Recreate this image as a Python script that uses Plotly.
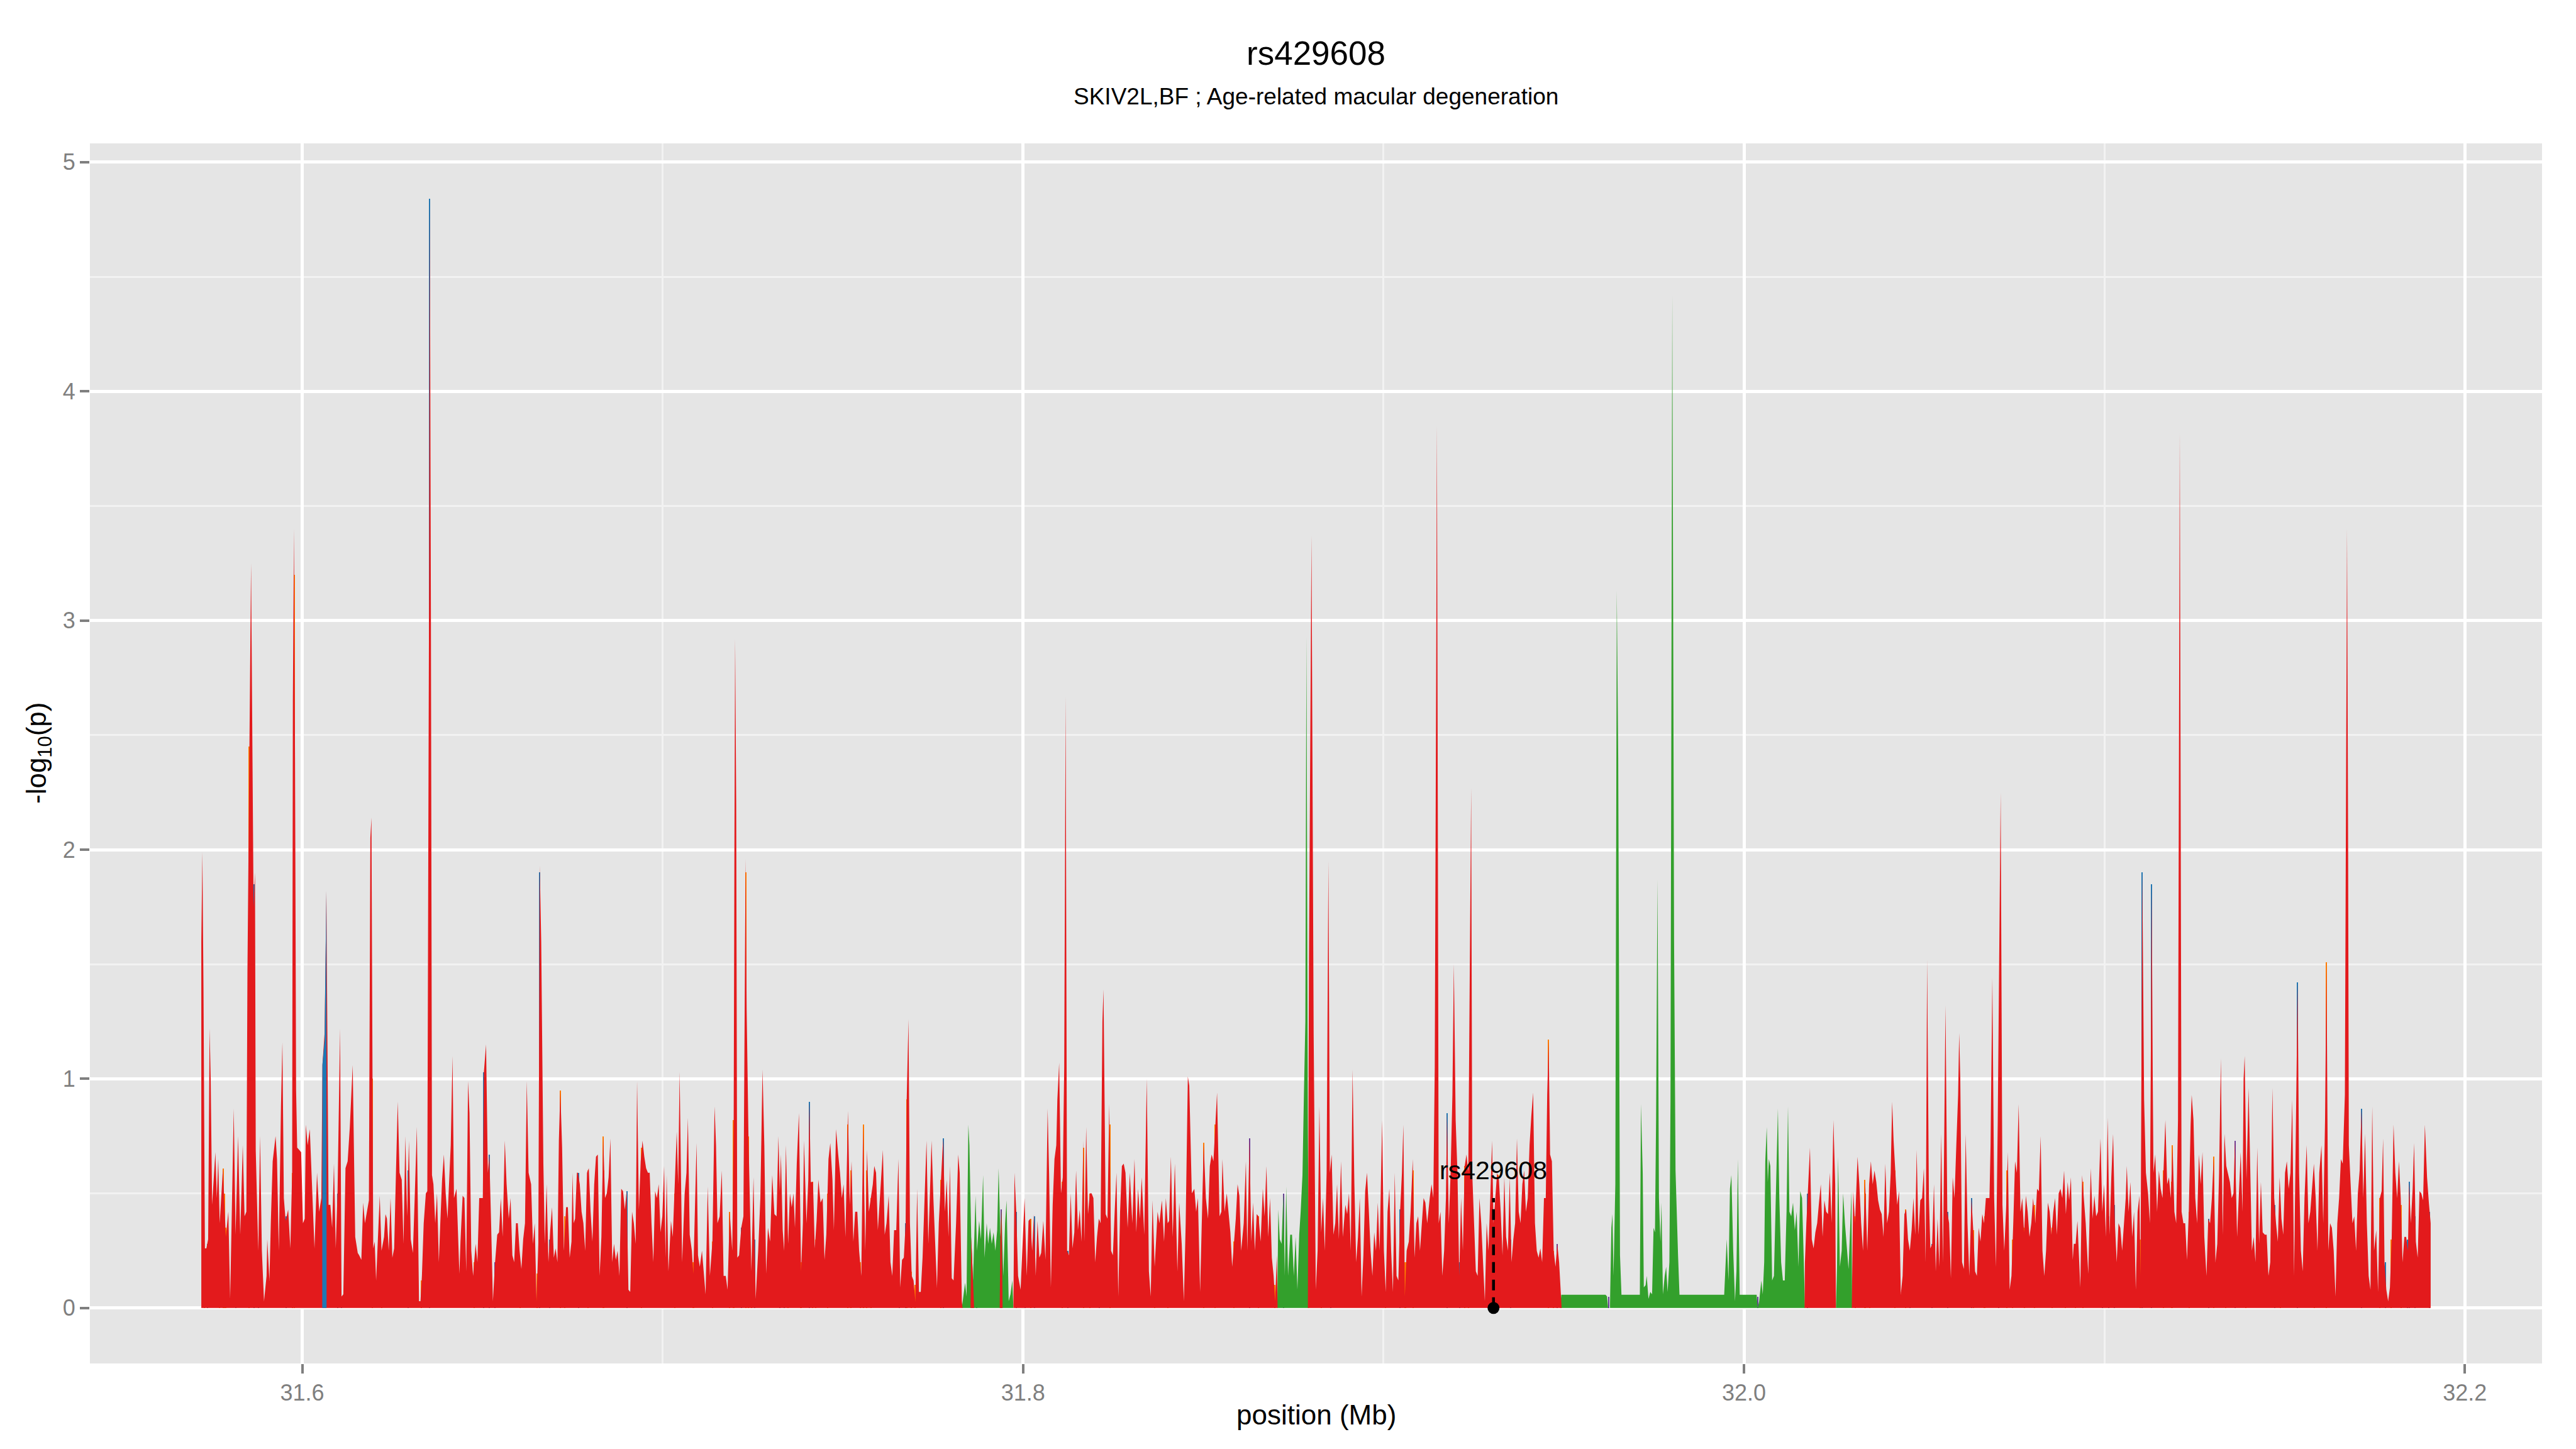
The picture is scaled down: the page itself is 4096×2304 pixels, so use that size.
import plotly.graph_objects as go

FONT = "Liberation Sans, Arial, Helvetica, sans-serif"
TITLE = "rs429608"
SUBTITLE = "SKIV2L,BF ; Age-related macular degeneration"
X_LABEL = "position (Mb)"
Y_LABEL = "-log<sub>10</sub>(p)"
X_TICKS = [31.6, 31.8, 32.0, 32.2]
X_TICK_TEXT = ["31.6", "31.8", "32.0", "32.2"]
Y_TICKS = [0, 1, 2, 3, 4, 5]
Y_TICK_TEXT = ["0", "1", "2", "3", "4", "5"]

SNP_NAME = "rs429608"
SNP_POS_KB = 31930.5
SNP_LINE_TOP = 0.48
SNP_LABEL_Y = 0.60

# (position in kb, -log10 p) for the red (main) profile
red_a = [(31572.0,1.60),(31572.3,1.99),(31572.6,1.40),(31573.0,0.26),(31573.4,0.26),(31573.9,0.30),(31574.3,1.22),(31574.6,1.00),
(31575.0,0.45),(31575.9,0.68),(31576.3,0.48),(31576.7,0.65),(31577.1,0.37),(31578.0,0.61),(31578.8,0.31),(31579.5,0.42),
(31580.0,0.04),(31581.0,0.87),(31581.5,0.32),(31582.2,0.75),(31582.8,0.32),(31583.5,0.71),(31584.0,0.40),(31584.5,0.42),
(31584.8,1.47),(31585.3,2.45),(31585.8,3.25),(31586.5,1.75),(31586.9,1.90),(31587.1,0.69),(31587.8,0.25),(31588.3,0.75),
(31588.8,0.25),(31589.4,0.03),(31590.1,0.14),(31590.3,0.30),(31590.9,0.12),(31591.3,0.38),(31591.8,0.64),(31592.6,0.75),
(31593.0,0.65),(31593.5,0.25),(31594.1,0.88),(31594.5,1.16),(31594.9,0.48),(31595.4,0.38),(31596.1,0.43),(31596.7,0.26),
(31597.2,0.59),(31597.4,2.65),(31597.7,3.40),(31598.0,2.40),(31598.3,0.95),(31598.6,0.70),(31599.2,0.69),(31599.7,0.68),
(31600.2,0.37),(31600.7,0.39),(31601.0,0.80),(31601.5,0.71),(31602.1,0.78),(31602.8,0.48),(31603.4,0.26),(31604.1,0.59),
(31604.7,0.42),(31605.3,0.48),(31605.6,1.06),(31606.2,1.20),(31606.7,1.82),(31607.3,0.45),(31607.8,0.45),(31608.3,0.35),
(31608.8,0.63),(31609.3,0.26),(31609.8,0.51),(31610.5,1.22),(31610.9,0.05),(31611.4,0.06),(31612.0,0.61),(31612.6,0.64),
(31613.2,0.79),(31614.0,1.06),(31614.7,0.31),(31615.4,0.24),(31615.8,0.23),(31616.4,0.21),(31616.9,0.46),(31617.4,0.37),
(31617.9,0.42),(31618.5,0.47),(31618.9,2.05),(31619.2,2.14),(31619.7,0.26),(31620.1,0.29),(31620.5,0.12),(31620.9,0.26),
(31621.5,0.49),(31622.0,0.25),(31622.7,0.31),(31623.1,0.41),(31623.5,0.39),(31624.0,0.25),(31624.5,0.48),(31625.0,0.22),
(31625.5,0.26),(31626.0,0.59),(31626.5,0.90),(31627.0,0.59),(31627.6,0.56),(31628.1,0.28),(31628.6,0.75),(31629.1,0.40),
(31629.6,0.73),(31630.1,0.30),(31630.7,0.24),(31631.2,0.48),(31631.8,0.79),(31632.4,0.03),(31632.8,0.03),(31633.2,0.14),
(31633.7,0.37),(31634.3,0.50),(31634.7,0.51),(31635.2,3.20),(31635.4,4.84),(31635.7,3.00),(31636.0,0.58),(31636.4,0.54),
(31636.9,0.37),(31637.4,0.50),(31637.9,0.20),(31638.3,0.37),(31638.8,0.56),(31639.3,0.67),(31639.8,0.50),(31640.3,0.39),
(31640.7,0.54),(31641.2,0.71),(31641.7,1.10),(31642.1,0.48),(31642.8,0.52),(31643.3,0.25),(31643.6,0.15),(31643.9,0.29),
(31644.5,0.49),(31645.0,0.48),(31645.5,0.16),(31646.0,0.99),(31646.4,0.85),(31646.9,0.25),(31647.4,0.14),(31648.1,0.28),
(31648.6,0.20),(31649.1,0.48),(31649.6,0.48),(31650.1,0.48),(31650.4,1.03),(31651.0,1.15),(31651.5,0.59),(31651.9,0.67),
(31652.4,0.37),(31652.9,0.03),(31653.5,0.20),(31654.1,0.32),(31654.6,0.33),(31655.1,0.48),(31655.6,0.31),(31656.2,0.73),
(31656.7,0.54),(31657.3,0.39),(31657.8,0.48),(31658.3,0.23),(31658.8,0.20),(31659.3,0.37),(31659.8,0.37),(31660.3,0.25),
(31660.8,0.17),(31661.3,0.30),(31661.8,0.37),(31662.3,0.99),(31662.8,0.59),(31663.5,0.54),(31664.0,0.28),(31664.5,0.37),
(31665.0,0.03),(31665.5,0.28),(31665.9,1.93),(31666.3,1.60),(31666.9,0.63),(31667.3,0.28),(31667.8,0.54),(31668.3,0.20),
(31668.8,0.34),(31669.3,0.44),(31669.8,0.22),(31670.3,0.26),(31670.8,0.20),(31671.2,0.73),(31671.6,0.95),(31672.1,0.70),
(31672.6,0.25),(31673.2,0.44),(31673.7,0.44),(31674.2,0.22),(31674.7,0.29),(31675.0,0.59),(31675.3,0.37),(31675.7,0.39),
(31676.2,0.59),(31676.5,0.59),(31677.0,0.54),(31677.5,0.42),(31678.0,0.37),(31678.5,0.25),(31679.0,0.59),(31679.5,0.61),
(31680.0,0.42),(31680.5,0.29),(31681.0,0.54),(31681.5,0.66),(31682.0,0.67),(31682.5,0.14),(31683.0,0.31),(31683.5,0.75),
(31684.0,0.48),(31684.5,0.50),(31685.0,0.57),(31685.5,0.74),(31686.0,0.20),(31686.5,0.28),(31687.0,0.21),(31687.5,0.25),
(31688.0,0.14),(31688.5,0.52),(31689.0,0.51),(31689.5,0.43),(31690.0,0.51),(31690.5,0.08),(31691.0,0.07),(31691.5,0.42),
(31692.0,0.37),(31692.5,0.28),(31692.9,0.99),(31693.4,0.43),(31693.9,0.64),(31694.4,0.73),(31694.9,0.66),(31695.4,0.61),
(31695.9,0.59),(31696.4,0.59),(31696.9,0.37),(31697.4,0.20),(31697.9,0.51),(31698.4,0.48),(31698.9,0.54),(31699.4,0.33),
(31699.9,0.40),(31700.4,0.62)]

red_b = [(31700.8,0.22),(31701.1,0.58),(31701.6,0.16),(31702.3,0.38),(31702.8,0.31),(31703.1,0.45),(31703.9,0.77),(31704.3,0.54),
(31704.7,1.03),(31705.4,0.20),(31706.1,0.50),(31706.6,0.59),(31707.0,0.83),(31707.5,0.32),(31708.1,0.25),(31708.5,0.15),
(31709.0,0.48),(31709.4,0.72),(31709.8,0.23),(31710.3,0.18),(31710.9,0.25),(31711.3,0.17),(31711.9,0.06),(31712.5,0.53),
(31713.1,0.14),(31713.8,0.29),(31714.4,0.88),(31714.8,0.71),(31715.2,0.37),(31715.8,0.40),(31716.4,0.60),(31716.9,0.14),
(31717.5,0.14),(31718.0,0.08),(31718.6,0.42),(31719.3,0.25),(31719.7,0.82),(31719.9,2.00),(31720.1,2.92),(31720.4,2.20),
(31720.7,0.22),(31721.2,0.23),(31721.8,0.35),(31722.4,0.40),(31722.7,1.20),(31723.0,1.96),(31723.3,1.30),(31723.8,0.75),
(31724.6,0.16),(31725.2,0.57),(31725.8,0.04),(31726.5,0.25),(31727.1,0.48),(31727.7,1.04),(31728.2,0.71),(31728.7,0.15),
(31729.2,0.35),(31729.8,0.29),(31730.4,0.58),(31731.0,0.41),(31731.6,0.40),(31732.1,0.75),(31732.5,0.51),(31732.8,0.67),
(31733.3,0.34),(31733.7,0.25),(31734.2,0.71),(31734.8,0.28),(31735.3,0.50),(31735.8,0.44),(31736.3,0.50),(31736.7,0.35),
(31737.2,0.63),(31737.8,0.85),(31738.4,0.16),(31738.9,0.37),(31739.2,0.73),(31739.9,0.37),(31740.4,0.56),(31740.7,0.90),
(31741.1,0.55),(31741.7,0.55),(31742.2,0.26),(31742.7,0.38),(31743.2,0.56),(31743.8,0.46),(31744.4,0.48),(31744.9,0.21),
(31745.4,0.32),(31746.0,0.65),(31746.5,0.72),(31747.1,0.56),(31747.5,0.34),(31748.1,0.78),(31748.7,0.67),(31749.2,0.59),
(31749.7,0.48),(31750.2,0.54),(31750.7,0.31),(31751.4,0.86),(31751.9,0.45),(31752.4,0.64),(31752.9,0.29),(31753.4,0.42),
(31754.0,0.42),(31754.5,0.25),(31755.1,0.14),(31755.6,0.80),(31756.2,0.25),(31756.7,0.69),(31757.2,0.42),(31757.8,0.48),
(31758.3,0.54),(31758.7,0.62),(31759.2,0.59),(31759.7,0.34),(31760.2,0.48),(31760.7,0.59),(31761.1,0.69),(31761.6,0.32),
(31762.1,0.37),(31762.7,0.49),(31763.2,0.20),(31763.7,0.14),(31764.2,0.34),(31764.8,0.34),(31765.4,0.65),(31765.9,0.09),
(31766.4,0.21),(31766.9,0.22),(31767.4,0.37),(31767.7,0.91),(31768.2,1.26),(31768.6,0.37),(31769.1,0.14),(31769.6,0.12),
(31770.1,0.03),(31770.6,0.52),(31771.1,0.07),(31771.6,0.07),(31772.1,0.22),(31772.6,0.45),(31773.2,0.73),(31773.7,0.28),
(31774.1,0.48),(31774.6,0.73),(31775.1,0.48),(31775.6,0.30),(31776.1,0.09),(31776.6,0.37),(31777.2,0.56),(31777.8,0.74),
(31778.3,0.42),(31778.8,0.56),(31779.3,0.31),(31779.7,0.62),(31780.2,0.13),(31780.7,0.12),(31781.4,0.37),(31782.0,0.67),
(31782.4,0.59),(31783.0,0.03),(31783.2,0.00),(31785.4,0.00),(31785.6,0.31),(31786.1,0.12),(31786.4,0.00),(31793.5,0.00),
(31793.7,0.31),(31794.0,0.43),(31794.3,0.00),(31797.3,0.00),(31797.6,0.59),(31798.1,0.42),(31798.6,0.14),(31799.3,0.08),
(31799.9,0.28),(31800.4,0.48),(31801.0,0.14),(31801.5,0.38),(31802.0,0.39),(31802.5,0.25),(31803.0,0.41),(31803.5,0.14),
(31804.0,0.38),(31804.5,0.22),(31805.0,0.24),(31805.6,0.38),(31806.2,0.21),(31806.8,0.87),(31807.2,0.59),(31807.7,0.09),
(31808.2,0.45),(31808.7,0.65),(31809.2,0.71),(31809.5,0.91),(31810.0,1.07),(31810.5,0.50),(31811.0,0.57),(31811.4,1.05),
(31811.8,2.67),(31812.2,0.25),(31812.7,0.23),(31813.2,0.50),(31813.7,0.26),(31814.2,0.33),(31814.7,0.60),(31815.2,0.34),
(31815.7,0.43),(31816.2,0.29),(31816.7,0.73),(31817.0,0.29),(31817.5,0.79),(31818.0,0.41),(31818.5,0.50),(31819.0,0.50),
(31819.5,0.48),(31820.0,0.20),(31820.5,0.31),(31821.0,0.39),(31821.5,0.37),(31822.0,1.25),(31822.3,1.39),(31822.9,0.41),
(31823.4,0.39),(31823.9,0.89),(31824.4,0.25),(31824.9,0.23),(31825.4,0.42),(31825.9,0.59),(31826.4,0.05),(31826.9,0.42),
(31827.4,0.62),(31827.9,0.63),(31828.4,0.59),(31829.0,0.35),(31829.6,0.59)]

red_c = [(31830.3,0.37),(31830.9,0.65),(31831.4,0.33),(31831.9,0.52),(31832.4,0.39),(31832.9,0.57),(31833.6,0.32),(31834.3,1.00),
(31834.9,0.16),(31835.4,0.05),(31835.9,0.47),(31836.5,0.18),(31837.3,0.42),(31837.8,0.37),(31838.5,0.47),(31839.1,0.29),
(31839.6,0.48),(31840.1,0.37),(31840.5,0.38),(31841.0,0.66),(31841.5,0.31),(31842.1,0.63),(31842.8,0.16),(31843.3,0.46),
(31844.0,0.28),(31844.6,0.03),(31845.1,0.37),(31845.7,1.01),(31846.1,0.97),(31846.8,0.50),(31847.5,0.52),(31848.0,0.42),
(31848.5,0.48),(31849.1,0.07),(31849.6,0.42),(31850.1,0.72),(31850.7,0.48),(31851.3,0.39),(31851.8,0.62),(31852.3,0.67),
(31852.8,0.64),(31853.3,0.80),(31853.8,0.94),(31854.5,0.40),(31855.0,0.42),(31855.3,0.65),(31855.9,0.42),(31856.5,0.50),
(31857.0,0.42),(31857.5,0.33),(31858.0,0.18),(31858.5,0.29),(31859.0,0.39),(31859.5,0.54),(31860.0,0.49),(31860.5,0.25),
(31861.2,0.37),(31861.8,0.64),(31862.2,0.25),(31862.8,0.74),(31863.3,0.29),(31863.8,0.46),(31864.3,0.25),(31864.8,0.41),
(31865.3,0.40),(31865.9,0.29),(31866.5,0.52),(31867.0,0.40),(31867.5,0.62),(31868.0,0.31),(31868.5,0.48),(31869.0,0.22),
(31869.5,0.14),(31869.9,0.03),(31870.4,0.23),(31870.6,0.00),(31879.0,0.00),(31879.3,1.50),(31880.0,3.37),(31880.6,1.20),
(31881.2,0.08),(31881.7,0.25),(31882.2,0.88),(31882.7,0.33),(31883.2,0.48),(31883.7,0.25),(31884.2,0.59),(31884.7,1.95),
(31885.1,0.59),(31885.6,0.67),(31886.1,0.32),(31886.6,0.37),(31887.1,0.54),(31887.6,0.30),(31888.2,0.64),(31888.7,0.31),
(31889.4,0.45),(31889.9,0.41),(31890.4,0.50),(31890.9,0.25),(31891.4,1.04),(31891.9,0.54),(31892.4,0.20),(31892.9,0.31),
(31893.4,0.48),(31893.9,0.05),(31894.4,0.23),(31894.9,0.51),(31895.4,0.59),(31895.9,0.43),(31896.4,0.25),(31896.9,0.14),
(31897.4,0.33),(31897.9,0.25),(31898.4,0.46),(31898.9,0.25),(31899.6,0.82),(31900.1,0.25),(31900.6,0.07),(31901.1,0.42),
(31901.6,0.52),(31902.1,0.25),(31902.6,0.07),(31903.1,0.59),(31903.6,0.14),(31904.1,0.12),(31904.6,0.43),(31905.1,0.59),
(31905.5,0.80),(31905.9,0.05),(31906.4,0.25),(31907.0,0.29),(31907.5,0.42),(31908.1,0.65),(31908.6,0.22),(31909.1,0.37),
(31909.6,0.40),(31910.1,0.25),(31910.6,0.37),(31911.1,0.48),(31911.6,0.46),(31912.1,0.37),(31912.8,0.48),(31913.3,0.54),
(31913.8,0.48),(31914.2,1.05),(31914.6,2.80),(31914.8,3.85),(31915.0,2.50),(31915.3,0.37),(31915.8,0.42),(31916.3,0.14),
(31916.8,0.25),(31917.3,0.48),(31917.6,0.85),(31918.1,0.37),(31918.6,0.59),(31919.1,0.93),(31919.5,1.50),(31920.0,0.82),
(31920.5,0.59),(31921.0,0.14),(31921.5,0.48),(31922.0,0.25),(31922.5,0.62),(31923.0,0.67),(31923.5,0.59),(31924.0,1.50),
(31924.3,2.27),(31924.6,0.59),(31925.1,0.37),(31925.6,0.16),(31926.1,0.14),(31926.6,0.48),(31927.1,0.37),(31927.6,0.20),
(31928.1,0.03),(31928.6,0.37),(31929.1,0.25),(31929.6,0.48),(31930.1,0.73),(31930.5,0.37),(31931.0,0.48),(31931.5,0.59),
(31932.0,0.56),(31932.5,0.42),(31933.0,0.23),(31933.5,0.57),(31934.0,0.31),(31934.5,0.25),(31935.0,0.57),(31935.5,0.20),
(31936.0,0.30),(31936.5,0.37),(31937.0,0.74),(31937.5,0.42),(31938.0,0.37),(31938.5,0.54),(31939.0,0.60),(31939.5,0.42),
(31940.0,0.48),(31940.5,0.71),(31941.0,0.84),(31941.5,0.94),(31942.0,0.37),(31942.5,0.25),(31943.0,0.22),(31943.5,0.26),
(31944.0,0.20),(31944.5,0.48),(31945.0,0.48),(31945.4,0.93),(31945.8,1.17),(31946.2,0.67),(31946.7,0.64),(31947.2,0.25),
(31947.7,0.18),(31948.2,0.28),(31948.7,0.20),(31949.2,0.06),(31949.4,0.00),(32016.8,0.00)]

red_d = [(32016.9,0.20),(32017.3,0.37),(32017.8,0.56),(32018.3,0.70),(32018.8,0.30),(32019.3,0.26),(32019.8,0.33),(32020.3,0.37),
(32020.8,0.46),(32021.3,0.54),(32021.8,0.31),(32022.3,0.47),(32022.8,0.42),(32023.3,0.41),(32023.8,0.59),(32024.3,0.37),
(32024.8,0.82),(32025.3,0.54),(32025.5,0.00),(32029.9,0.00),(32030.3,0.51),(32030.8,0.37),(32031.5,0.66),(32032.0,0.54),
(32032.5,0.37),(32033.0,0.25),(32033.6,0.56),(32034.2,0.25),(32034.7,0.54),(32035.2,0.64),(32035.7,0.54),(32036.2,0.60),
(32036.7,0.55),(32037.2,0.47),(32037.7,0.43),(32038.2,0.41),(32038.7,0.31),(32039.2,0.63),(32039.7,0.37),(32040.2,0.42),
(32040.7,0.59),(32041.1,0.90),(32041.5,0.73),(32042.0,0.57),(32042.5,0.45),(32043.0,0.51),(32043.5,0.06),(32044.0,0.14),
(32044.5,0.41),(32045.0,0.43),(32045.5,0.30),(32046.0,0.25),(32046.5,0.34),(32047.0,0.48),(32047.5,0.32),(32047.9,0.69),
(32048.4,0.32),(32048.9,0.47),(32049.4,0.48),(32049.9,0.61),(32050.4,0.20),(32050.8,1.52),(32051.3,0.48),(32051.7,0.26),
(32052.2,0.28),(32052.7,0.54),(32053.2,0.16),(32053.7,0.39),(32054.2,0.18),(32054.7,0.76),(32055.2,0.20),(32055.9,1.32),
(32056.4,0.42),(32056.9,0.37),(32057.4,0.13),(32057.9,0.57),(32058.4,0.48),(32058.9,0.71),(32059.4,0.93),(32059.7,1.20),
(32060.0,1.00),(32060.5,0.20),(32061.0,0.17),(32061.5,0.76),(32062.0,0.37),(32062.5,0.14),(32063.1,0.48),(32063.6,0.34),
(32064.1,0.16),(32064.6,0.14),(32065.1,0.35),(32065.6,0.29),(32066.1,0.41),(32066.6,0.37),(32067.1,0.48),(32067.6,0.48),
(32068.1,0.48),(32068.4,0.71),(32068.9,1.44),(32069.4,0.48),(32069.9,0.18),(32070.4,0.82),(32070.8,1.60),(32071.2,2.25),
(32071.7,0.45),(32072.2,0.25),(32072.7,0.43),(32073.2,0.68),(32073.7,0.08),(32074.2,0.14),(32074.7,0.37),(32075.2,0.64),
(32075.7,0.59),(32076.2,0.89),(32076.7,0.42),(32077.2,0.48),(32077.7,0.33),(32078.2,0.49),(32078.7,0.42),(32079.2,0.31),
(32079.7,0.37),(32080.2,0.48),(32080.8,0.37),(32081.3,0.52),(32081.8,0.51),(32082.3,0.75),(32082.8,0.25),(32083.3,0.14),
(32083.8,0.25),(32084.3,0.46),(32084.8,0.42),(32085.3,0.32),(32085.8,0.42),(32086.3,0.48),(32086.8,0.32),(32087.3,0.50),
(32087.8,0.52),(32088.3,0.48),(32088.8,0.60)]

red_e = [(32089.3,0.41),(32089.8,0.55),(32090.2,0.47),(32090.7,0.57),(32091.2,0.21),(32091.5,0.28),(32092.0,0.28),(32092.5,0.38),
(32093.0,0.21),(32093.3,0.09),(32093.8,0.58),(32094.3,0.48),(32094.8,0.37),(32095.5,0.15),(32096.2,0.61),(32096.7,0.39),
(32097.2,0.49),(32097.7,0.40),(32098.2,0.42),(32098.9,0.74),(32099.4,0.42),(32099.9,0.54),(32100.4,0.31),(32100.9,0.83),
(32101.4,0.32),(32101.9,0.57),(32102.4,0.76),(32102.9,0.37),(32103.4,0.20),(32103.9,0.37),(32104.4,0.35),(32104.9,0.25),
(32105.4,0.37),(32105.9,0.48),(32106.2,0.62),(32106.7,0.42),(32107.2,0.55),(32107.7,0.31),(32108.2,0.42),(32108.7,0.08),
(32109.2,0.42),(32109.7,0.49),(32110.0,0.14),(32110.5,1.90),(32111.0,0.91),(32111.5,0.59),(32112.1,0.50),(32112.6,0.37),
(32112.9,1.20),(32113.1,1.85),(32113.4,1.00),(32113.6,0.59),(32114.1,0.67),(32114.6,0.42),(32115.1,0.60),(32115.6,0.52),
(32116.1,0.48),(32116.6,0.71),(32116.9,0.82),(32117.4,0.54),(32117.9,0.57),(32118.4,0.48),(32118.9,0.71),(32119.4,0.42),
(32119.9,0.37),(32120.4,0.82),(32120.7,2.90),(32120.9,3.82),(32121.1,2.50),(32121.4,0.42),(32121.9,0.37),(32122.4,0.37),
(32122.9,0.21),(32123.4,0.42),(32123.9,0.80),(32124.2,0.93),(32124.7,0.82),(32125.2,0.48),(32125.7,0.37),(32126.2,0.67),
(32126.7,0.54),(32127.2,0.68),(32127.7,0.31),(32128.3,0.14),(32128.8,0.39),(32129.3,0.37),(32129.8,0.48),(32130.3,0.66),
(32130.8,0.20),(32131.3,0.28),(32131.8,0.59),(32132.3,1.09),(32132.8,0.32),(32133.3,0.76),(32133.8,0.62),(32134.3,0.58),
(32134.8,0.55),(32135.3,0.48),(32135.8,0.50),(32136.2,0.73),(32136.8,0.31),(32137.3,0.50),(32137.8,0.68),(32138.3,0.42),
(32138.6,1.00),(32138.9,1.10),(32139.4,0.56),(32140.0,0.96),(32140.4,0.59),(32140.9,0.25),(32141.4,0.31),(32141.9,0.20),
(32142.4,0.70),(32142.9,0.28),(32143.4,0.55),(32143.9,0.33),(32144.5,0.32),(32145.0,0.32),(32145.5,0.14),(32146.0,0.20),
(32146.6,0.96),(32147.1,0.48),(32147.6,0.37),(32148.1,0.29),(32148.6,0.57),(32149.1,0.39),(32149.6,0.32),(32150.1,0.59),
(32150.6,0.64),(32151.1,0.52),(32151.6,0.59),(32152.1,0.91),(32152.6,0.14),(32153.1,0.84),(32153.6,1.42),(32154.0,0.59),
(32154.5,0.25),(32155.0,0.16),(32155.5,0.48),(32156.1,0.71),(32156.6,0.37),(32157.1,0.42),(32157.6,0.54),(32158.1,0.63),
(32158.6,0.48),(32159.1,0.25),(32159.6,0.59),(32160.2,0.71),(32160.7,0.37),(32161.2,0.82),(32161.6,1.51),(32162.1,0.25),
(32162.6,0.37),(32163.1,0.35),(32163.6,0.25),(32164.1,0.05),(32164.6,0.37),(32165.1,0.48),(32165.6,0.65),(32166.1,0.63),
(32166.7,0.93),(32167.0,2.20),(32167.3,3.40),(32167.6,2.00),(32167.8,0.71),(32168.3,0.54),(32168.8,0.37),(32169.3,0.40),
(32169.8,0.25),(32170.3,0.50),(32170.8,0.60),(32171.3,0.87),(32171.8,0.48),(32172.3,0.76),(32172.8,0.37),(32173.3,0.14),
(32173.8,0.08),(32174.3,0.88),(32174.8,0.25),(32175.4,0.34),(32175.9,0.07),(32176.4,0.48),(32176.9,0.51),(32177.3,0.74),
(32177.7,0.20),(32178.2,0.08),(32178.7,0.03),(32179.2,0.09),(32179.7,0.31),(32180.2,0.80),(32180.7,0.59),(32181.2,0.48),
(32181.7,0.64),(32182.2,0.48),(32182.7,0.20),(32183.2,0.31),(32183.7,0.31),(32184.2,0.25),(32184.5,0.55),(32185.0,0.37),
(32185.5,0.52),(32185.9,0.72),(32186.4,0.29),(32186.9,0.22),(32187.4,0.51),(32187.9,0.50),(32188.4,0.47),(32188.9,0.80),
(32189.5,0.57),(32190.0,0.46),(32190.5,0.37)]

# green (low-LD) stretches
green_a = [(31783.0,0.00),(31783.4,0.05),(31783.9,0.11),(31784.3,0.05),(31784.8,0.80),(31785.1,0.71),(31785.6,0.31),(31786.1,0.12),
(31786.8,0.49),(31787.2,0.25),(31787.8,0.38),(31788.3,0.30),(31788.9,0.58),(31789.3,0.22),(31789.9,0.37),(31790.3,0.28),
(31790.8,0.35),(31791.3,0.28),(31791.8,0.33),(31792.3,0.25),(31792.8,0.34),(31793.2,0.61),(31793.7,0.31),(31794.0,0.43),
(31794.5,0.14),(31795.0,0.37),(31795.4,0.47),(31796.0,0.03),(31796.5,0.06),(31797.0,0.12),(31797.3,0.00)]
green_b = [(31870.5,0.00),(31870.8,0.43),(31871.2,0.30),(31871.7,0.28),(31872.2,0.50),(31872.6,0.14),(31873.0,0.53),(31873.5,0.14),
(31874.1,0.32),(31874.6,0.32),(31875.1,0.14),(31875.6,0.31),(31876.1,0.08),(31876.6,0.32),(31877.0,0.42),(31877.5,0.58),
(31877.9,0.93),(31878.3,1.25),(31878.6,2.93),(31879.0,0.80),(31879.3,0.00)]
green_c = [(31949.0,0.00),(31949.3,0.058),(31961.6,0.058),(31962.0,0.05),(31962.3,0.00),(31962.8,0.00),(31963.2,0.35),(31963.5,0.41),
(31963.8,0.14),(31964.3,0.54),(31964.7,3.13),(31965.1,2.40),(31965.6,0.23),(31966.0,0.058),(31971.1,0.058),(31971.4,0.89),
(31971.9,0.59),(31972.2,0.09),(31972.7,0.10),(31973.0,0.14),(31973.5,0.04),(31974.0,0.07),(31974.5,0.06),(31974.9,0.35),
(31975.3,0.33),(31975.6,0.82),(31976.0,1.87),(31976.4,0.48),(31976.8,0.29),(31977.1,0.46),(31977.5,0.06),(31978.0,0.14),
(31978.4,0.18),(31978.8,0.07),(31979.3,0.20),(31979.6,0.90),(31980.1,4.42),(31980.6,1.60),(31981.0,0.60),(31981.7,0.23),
(31982.1,0.058),(31994.5,0.058),(31994.7,0.14),(31995.2,0.30),(31995.7,0.12),(31996.1,0.52),(31996.5,0.58),(31997.0,0.25),
(31997.5,0.03),(31997.9,0.16),(31998.3,0.65),(31998.8,0.058),(32003.5,0.058),(32003.8,0.00),(32004.2,0.03),(32004.8,0.12),
(32005.2,0.06),(32005.6,0.20),(32005.9,0.64),(32006.3,0.79),(32006.6,0.55),(32006.9,0.65),(32007.3,0.62),(32007.8,0.12),
(32008.3,0.14),(32008.8,0.48),(32009.4,0.87),(32009.8,0.48),(32010.3,0.20),(32010.8,0.12),(32011.3,0.12),(32011.8,0.42),
(32012.2,0.88),(32012.6,0.42),(32013.1,0.40),(32013.6,0.46),(32014.1,0.34),(32014.6,0.42),(32015.1,0.18),(32015.6,0.51),
(32016.1,0.48),(32016.6,0.20),(32016.9,0.00)]
green_d = [(32025.5,0.00),(32025.8,0.18),(32026.1,0.66),(32026.6,0.18),(32027.1,0.25),(32027.5,0.50),(32028.0,0.37),(32028.5,0.26),
(32029.0,0.17),(32029.5,0.37),(32029.8,0.51),(32030.0,0.00)]

# wide blue patch under the 31.606 Mb peak
blue_patch = [(31605.55,0.00),(31605.6,1.06),(31606.2,1.17),(31606.7,1.82),(31606.75,0.00)]

# thin single-SNP stripes: (position kb, -log10 p)
orange_snps = [(31572.9,0.26),(31577.1,0.37),(31578.1,0.61),(31578.4,0.50),(31578.7,0.35),(31585.3,2.45),(31597.2,0.59),
(31597.8,3.20),(31619.5,1.00),(31622.0,0.25),(31633.1,0.12),(31647.7,0.20),(31660.5,0.20),(31665.2,0.15),(31671.6,0.95),
(31672.9,0.40),(31679.3,0.60),(31683.5,0.75),(31683.7,0.60),(31694.2,0.70),(31703.3,0.50),(31708.4,0.20),(31708.6,0.20),
(31713.8,0.29),(31718.6,0.42),(31719.7,0.82),(31723.1,1.90),(31723.8,0.75),(31724.7,0.16),(31734.8,0.28),(31738.3,0.20),
(31738.5,0.20),(31741.5,0.55),(31742.5,0.30),(31745.7,0.50),(31751.3,0.80),(31752.3,0.60),(31754.9,0.20),(31755.7,0.80),
(31756.5,0.60),(31757.8,0.48),(31767.7,0.91),(31769.0,0.16),(31770.1,0.10),(31777.2,0.56),(31802.1,0.39),(31810.8,0.55),
(31816.8,0.70),(31818.5,0.50),(31824.1,0.80),(31836.5,0.18),(31840.1,0.37),(31850.1,0.72),(31853.3,0.80),(31858.5,0.29),
(31865.3,0.40),(31869.9,0.10),(31882.7,0.33),(31900.6,0.07),(31905.9,0.20),(31906.1,0.20),(31908.2,0.60),(31922.5,0.62),
(31923.6,0.60),(31931.7,0.58),(31945.8,1.17),(31947.2,0.25),(32030.9,0.40),(32033.5,0.56),(32033.7,0.50),(32034.8,0.54),
(32041.9,0.60),(32044.9,0.43),(32063.6,0.34),(32066.6,0.37),(32066.8,0.40),(32073.0,0.60),(32074.5,0.30),(32077.8,0.35),
(32080.6,0.45),(32085.5,0.35),(32089.2,0.40),(32092.0,0.28),(32094.0,0.55),(32109.9,0.30),(32116.3,0.60),(32118.6,0.55),
(32118.8,0.71),(32123.5,0.42),(32130.3,0.66),(32133.7,0.60),(32139.3,0.56),(32148.9,0.40),(32158.3,0.50),(32161.6,1.51),
(32176.4,0.48),(32179.6,0.30),(32182.4,0.45)]
blue_snps = [(31573.8,0.28),(31581.5,0.32),(31586.7,1.85),(31587.8,0.25),(31595.6,0.40),(31609.9,0.50),(31610.9,0.05),
(31629.4,0.60),(31635.4,4.84),(31650.4,1.03),(31651.9,0.67),(31665.8,1.90),(31668.6,0.30),(31676.6,0.59),(31690.1,0.51),
(31721.8,0.35),(31725.5,0.30),(31733.8,0.25),(31740.7,0.90),(31765.7,0.10),(31767.4,0.37),(31777.8,0.74),(31798.1,0.42),
(31803.1,0.40),(31812.5,0.25),(31821.2,0.38),(31885.4,0.60),(31904.6,0.43),(31917.6,0.85),(31921.1,0.20),(31935.3,0.30),
(32017.6,0.50),(32046.0,0.25),(32052.2,0.28),(32056.5,0.42),(32063.1,0.48),(32099.4,0.42),(32101.2,0.40),(32102.8,0.45),
(32110.5,1.90),(32113.1,1.85),(32128.9,0.39),(32147.3,0.45),(32153.6,1.42),(32171.3,0.87),(32177.9,0.20),(32184.0,0.30),
(32184.6,0.55),(32186.2,0.40),(32190.2,0.42)]
purple_snps = [(31653.4,0.20),(31732.5,0.51),(31787.2,0.25),(31794.0,0.43),(31800.6,0.30),(31862.8,0.74),(31872.2,0.50),
(31948.2,0.28),(31962.5,0.05),(32003.8,0.05),(32070.7,0.50),(32136.2,0.73)]

RED = "#E31A1C"
ORANGE = "#FF7F00"
BLUE = "#1F78B4"
GREEN = "#33A02C"
PURPLE = "#6A3D9A"
STRIPE_W = 0.00035


def split(*segments):
    xs, ys = [], []
    for seg in segments:
        for kb, v in seg:
            xs.append(kb / 1000.0)
            ys.append(v)
    return xs, ys


fig = go.Figure()

gx, gy = split(green_a, green_b, green_c, green_d)
fig.add_trace(go.Scatter(x=gx, y=gy, mode="lines", fill="tozeroy", fillcolor=GREEN,
                         line=dict(width=0, color=GREEN), hoverinfo="skip"))
rx, ry = split(red_a, red_b, red_c, red_d, red_e)
fig.add_trace(go.Scatter(x=rx, y=ry, mode="lines", fill="tozeroy", fillcolor=RED,
                         line=dict(width=0, color=RED), hoverinfo="skip"))
bx, by = split(blue_patch)
fig.add_trace(go.Scatter(x=bx, y=by, mode="lines", fill="tozeroy", fillcolor=BLUE,
                         line=dict(width=0, color=BLUE), hoverinfo="skip"))
for snps, col in ((orange_snps, ORANGE), (blue_snps, BLUE), (purple_snps, PURPLE)):
    sx, sy = split(snps)
    fig.add_trace(go.Bar(x=sx, y=sy, width=STRIPE_W, marker=dict(color=col, line=dict(width=0)),
                         hoverinfo="skip"))

snp_mb = SNP_POS_KB / 1000.0
fig.add_trace(go.Scatter(x=[snp_mb, snp_mb], y=[0, SNP_LINE_TOP], mode="lines",
                         line=dict(color="black", width=4.5, dash="17px,11px"), hoverinfo="skip"))
fig.add_trace(go.Scatter(x=[snp_mb], y=[0], mode="markers",
                         marker=dict(color="black", size=19), hoverinfo="skip"))

fig.add_annotation(x=snp_mb, y=SNP_LABEL_Y, xref="x", yref="y", text=SNP_NAME, showarrow=False,
                   font=dict(family=FONT, size=41, color="black"), xanchor="center", yanchor="middle")

W, H = 4096, 2304
ML, MR, MT, MB = 143, 54, 228, 136
PH = H - MT - MB
PW = W - ML - MR

fig.add_annotation(x=0.5, y=1 + (MT - 84) / PH, xref="paper", yref="paper", text=TITLE, showarrow=False,
                   font=dict(family=FONT, size=53, color="black"), xanchor="center", yanchor="middle")
fig.add_annotation(x=0.5, y=1 + (MT - 154) / PH, xref="paper", yref="paper", text=SUBTITLE, showarrow=False,
                   font=dict(family=FONT, size=37, color="black"), xanchor="center", yanchor="middle")
fig.add_annotation(x=0.5, y=-(2249 - (H - MB)) / PH, xref="paper", yref="paper", text=X_LABEL, showarrow=False,
                   font=dict(family=FONT, size=44, color="black"), xanchor="center", yanchor="middle")
fig.add_annotation(x=-(ML - 61) / PW, y=0.5, xref="paper", yref="paper", text=Y_LABEL, showarrow=False,
                   textangle=-90, font=dict(family=FONT, size=44, color="black"),
                   xanchor="center", yanchor="middle")

fig.update_layout(
    width=W, height=H,
    margin=dict(l=ML, r=MR, t=MT, b=MB, pad=0),
    paper_bgcolor="white", plot_bgcolor="#E5E5E5",
    showlegend=False, barmode="overlay", bargap=0,
    font=dict(family=FONT),
)
fig.update_xaxes(
    range=[31.5411, 32.2214], tickmode="array", tickvals=X_TICKS, ticktext=X_TICK_TEXT,
    ticks="outside", ticklen=15, tickwidth=3.5, tickcolor="#7F7F7F",
    tickfont=dict(family=FONT, size=36, color="#7F7F7F"),
    showgrid=True, gridcolor="white", gridwidth=5, zeroline=False, showline=False, automargin=False,
    minor=dict(tickmode="linear", tick0=31.5, dtick=0.1, showgrid=True, gridcolor="#F2F2F2",
               gridwidth=2.5, ticks=""),
)
fig.update_yaxes(
    range=[-0.242, 5.082], tickmode="array", tickvals=Y_TICKS, ticktext=Y_TICK_TEXT,
    ticks="outside", ticklen=15, tickwidth=3.5, tickcolor="#7F7F7F",
    tickfont=dict(family=FONT, size=36, color="#7F7F7F"),
    showgrid=True, gridcolor="white", gridwidth=5, zeroline=False, showline=False, automargin=False,
    minor=dict(tickmode="linear", tick0=0, dtick=0.5, showgrid=True, gridcolor="#F2F2F2",
               gridwidth=2.5, ticks=""),
)

fig.write_html("out.html", config={"displayModeBar": False},
               post_script="document.body.style.margin='0px';document.body.style.overflow='hidden';")
